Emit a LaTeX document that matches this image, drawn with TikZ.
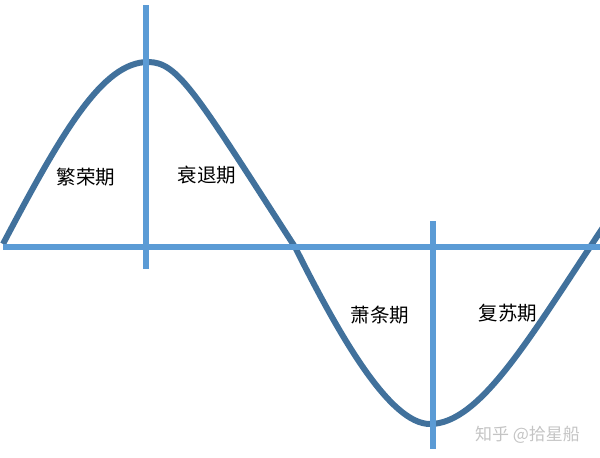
\documentclass[tikz,border=0pt]{standalone}
\usepackage{fontspec}
\newfontfamily\cjk{Noto Sans CJK SC}
\definecolor{curveblue}{HTML}{41719C}
\definecolor{lineblue}{HTML}{5B9BD5}
\definecolor{wmgray}{HTML}{C4C4C4}
\begin{document}
\begin{tikzpicture}[x=1pt,y=-1pt,
  wave/.style={draw=curveblue,line width=6pt},
  axisline/.style={draw=lineblue,line width=6pt},
  phase/.style={font=\cjk\fontsize{19.5}{19.5}\selectfont,text=black,inner sep=0pt},
  mark label/.style={font=\cjk\fontsize{17}{17}\selectfont,text=wmgray,inner sep=0pt}]
\useasboundingbox (0,0) rectangle (600,458);
\coordinate (s) at (3,244);
\coordinate (pk) at (148,62);
\coordinate (z1) at (295,247);
\coordinate (tr) at (430,424);
\coordinate (z2) at (600,232);
\coordinate (e) at (610,217);
\draw[wave] (s) .. controls (63,130) and (103,62) .. (pk)
  .. controls (178,62) and (195,92) .. (z1)
  .. controls (340,337) and (390,424) .. (tr)
  .. controls (480,424) and (530,337) .. (z2) -- (e);
\coordinate (hl) at (3,247);
\coordinate (hr) at (600,247);
\draw[axisline] (hl) -- (hr);
\coordinate (v1t) at (146,5);
\coordinate (v1b) at (146,269);
\coordinate (v2t) at (432.5,221);
\coordinate (v2b) at (432.5,449);
\draw[axisline] (v1t) -- (v1b);
\draw[axisline] (v2t) -- (v2b);
\node[phase] (boom) at (86,177) {繁荣期};
\node[phase] (rec) at (207,175) {衰退期};
\node[phase] (dep) at (380,315) {萧条期};
\node[phase] (recv) at (508,313) {复苏期};
\node[mark label] (wm) at (527.5,435) {知乎 @拾星船};
\end{tikzpicture}
\end{document}
